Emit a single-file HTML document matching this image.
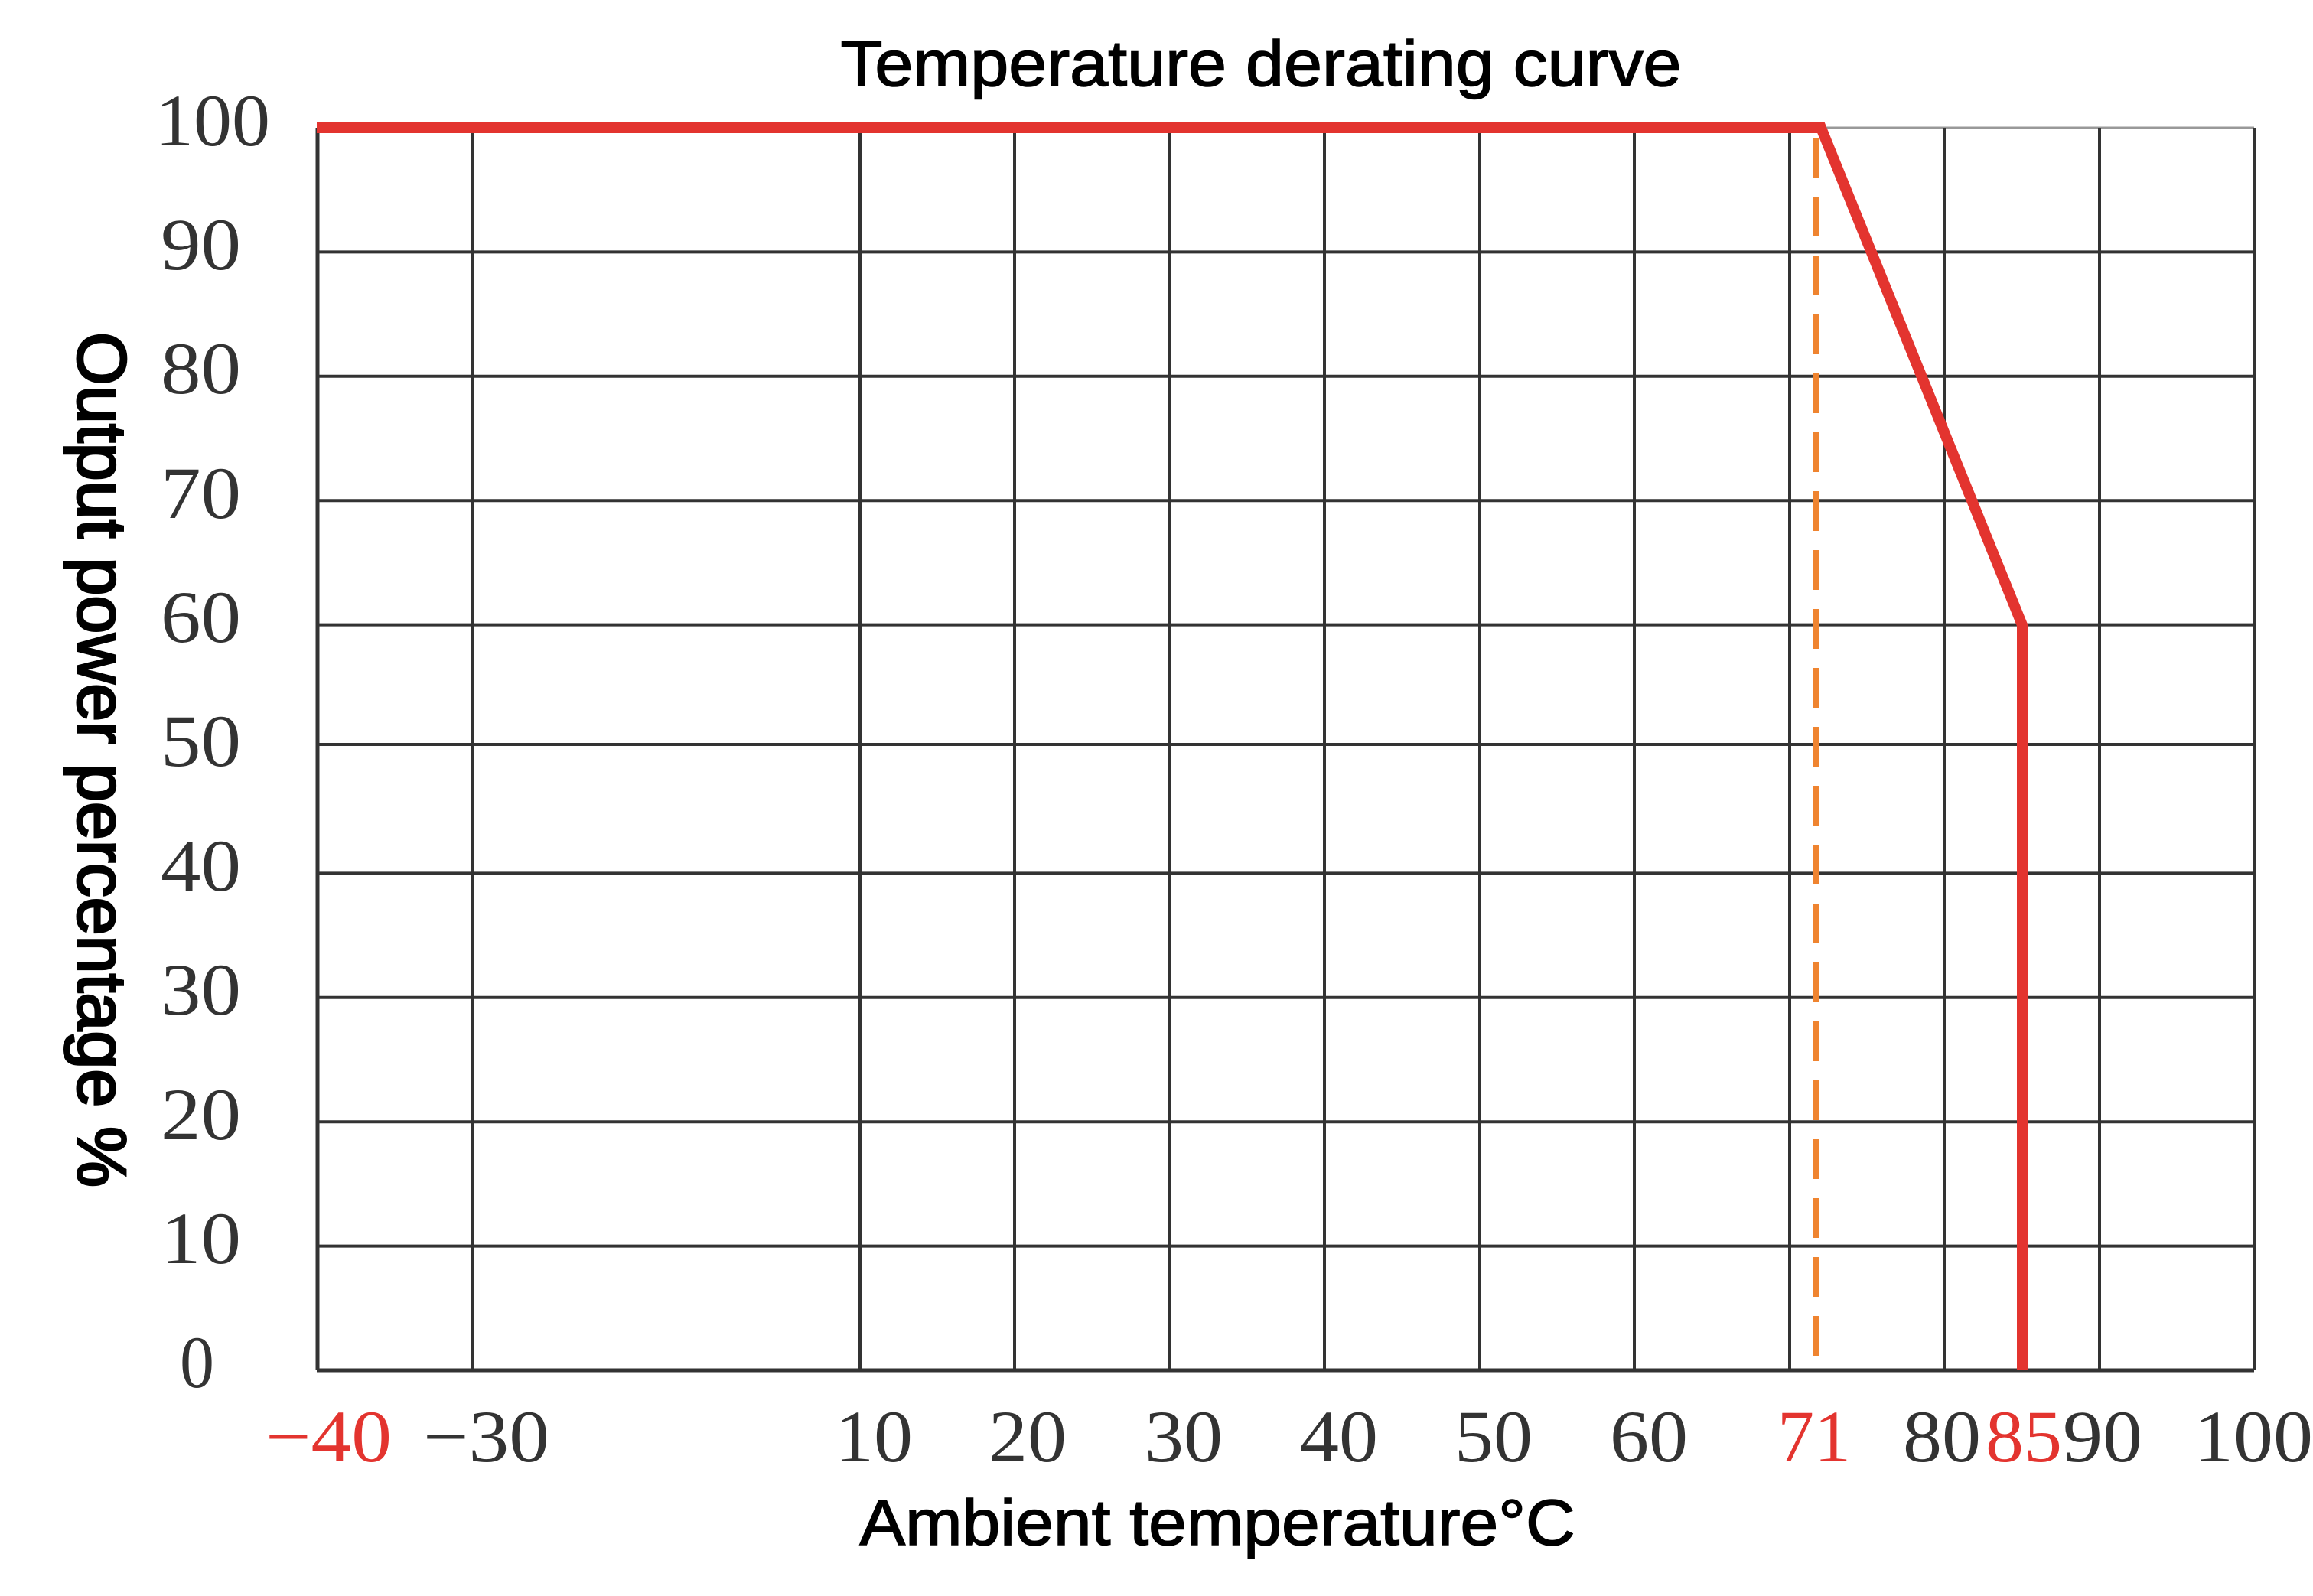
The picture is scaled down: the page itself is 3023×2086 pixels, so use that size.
<!DOCTYPE html>
<html><head><meta charset="utf-8"><style>html,body{margin:0;padding:0;background:#fff}svg{display:block}</style></head>
<body>
<svg width="3023" height="2086" viewBox="0 0 3023 2086" xmlns="http://www.w3.org/2000/svg">
<rect width="3023" height="2086" fill="#fff"/>
<g stroke="#333" stroke-width="4" fill="none">
<line x1="414" y1="167" x2="2946" y2="167" stroke="#999" stroke-width="3"/>
<line x1="414" y1="329.4" x2="2946" y2="329.4"/>
<line x1="414" y1="491.8" x2="2946" y2="491.8"/>
<line x1="414" y1="654.2" x2="2946" y2="654.2"/>
<line x1="414" y1="816.6" x2="2946" y2="816.6"/>
<line x1="414" y1="973" x2="2946" y2="973"/>
<line x1="414" y1="1141.4" x2="2946" y2="1141.4"/>
<line x1="414" y1="1303.8" x2="2946" y2="1303.8"/>
<line x1="414" y1="1466.2" x2="2946" y2="1466.2"/>
<line x1="414" y1="1628.6" x2="2946" y2="1628.6"/>
<line x1="414" y1="1791" x2="2946" y2="1791" stroke-width="5"/>
<line x1="415" y1="167" x2="415" y2="1791" stroke-width="5"/>
<line x1="617" y1="167" x2="617" y2="1791"/>
<line x1="1124" y1="167" x2="1124" y2="1791"/>
<line x1="1326" y1="167" x2="1326" y2="1791"/>
<line x1="1529" y1="167" x2="1529" y2="1791"/>
<line x1="1731" y1="167" x2="1731" y2="1791"/>
<line x1="1934" y1="167" x2="1934" y2="1791"/>
<line x1="2136" y1="167" x2="2136" y2="1791"/>
<line x1="2339" y1="167" x2="2339" y2="1791"/>
<line x1="2541" y1="167" x2="2541" y2="1791"/>
<line x1="2744" y1="167" x2="2744" y2="1791"/>
<line x1="2946" y1="167" x2="2946" y2="1791"/>
</g>
<line x1="2374" y1="180" x2="2374" y2="1791" stroke="#ef8430" stroke-width="8" stroke-dasharray="52,25"/>
<polyline points="414,167 2380,167 2643,817 2643,1791" fill="none" stroke="#e3342f" stroke-width="14" stroke-linejoin="miter"/>
<g font-family="Liberation Sans, sans-serif" fill="#000" stroke="#000" stroke-width="1.5">
<text x="1648" y="112" font-size="84" text-anchor="middle" textLength="1099" lengthAdjust="spacingAndGlyphs">Temperature derating curve</text>
<text x="1591" y="2019" font-size="84" text-anchor="middle" textLength="935" lengthAdjust="spacingAndGlyphs">Ambient temperature°C</text>
<text transform="translate(102,993) rotate(90)" font-size="90" text-anchor="middle" textLength="1118" lengthAdjust="spacingAndGlyphs" stroke-width="3">Output power percentage %</text>
</g>
<g font-family="Liberation Serif, serif" font-size="96" fill="#333">
<text x="203" y="190" textLength="150" lengthAdjust="spacingAndGlyphs">100</text>
<text x="210" y="352" textLength="105" lengthAdjust="spacingAndGlyphs">90</text>
<text x="210" y="514" textLength="105" lengthAdjust="spacingAndGlyphs">80</text>
<text x="210" y="677" textLength="105" lengthAdjust="spacingAndGlyphs">70</text>
<text x="210" y="839" textLength="105" lengthAdjust="spacingAndGlyphs">60</text>
<text x="210" y="1001" textLength="105" lengthAdjust="spacingAndGlyphs">50</text>
<text x="210" y="1164" textLength="105" lengthAdjust="spacingAndGlyphs">40</text>
<text x="210" y="1326" textLength="105" lengthAdjust="spacingAndGlyphs">30</text>
<text x="210" y="1489" textLength="105" lengthAdjust="spacingAndGlyphs">20</text>
<text x="210" y="1651" textLength="105" lengthAdjust="spacingAndGlyphs">10</text>
<text x="235" y="1813" textLength="45" lengthAdjust="spacingAndGlyphs">0</text>
<text x="347" y="1910" fill="#e3342f" textLength="165" lengthAdjust="spacingAndGlyphs">−40</text>
<text x="553" y="1910" textLength="165" lengthAdjust="spacingAndGlyphs">−30</text>
<text x="1091" y="1910" textLength="102" lengthAdjust="spacingAndGlyphs">10</text>
<text x="1292" y="1910" textLength="102" lengthAdjust="spacingAndGlyphs">20</text>
<text x="1496" y="1910" textLength="102" lengthAdjust="spacingAndGlyphs">30</text>
<text x="1699" y="1910" textLength="102" lengthAdjust="spacingAndGlyphs">40</text>
<text x="1901" y="1910" textLength="102" lengthAdjust="spacingAndGlyphs">50</text>
<text x="2104" y="1910" textLength="102" lengthAdjust="spacingAndGlyphs">60</text>
<text x="2323" y="1910" fill="#e3342f" textLength="96" lengthAdjust="spacingAndGlyphs">71</text>
<text x="2487" y="1910" textLength="102" lengthAdjust="spacingAndGlyphs">80</text>
<text x="2595" y="1910" fill="#e3342f" textLength="100" lengthAdjust="spacingAndGlyphs">85</text>
<text x="2696" y="1910" textLength="104" lengthAdjust="spacingAndGlyphs">90</text>
<text x="2867" y="1910" textLength="156" lengthAdjust="spacingAndGlyphs">100</text>
</g>
</svg>
</body></html>
